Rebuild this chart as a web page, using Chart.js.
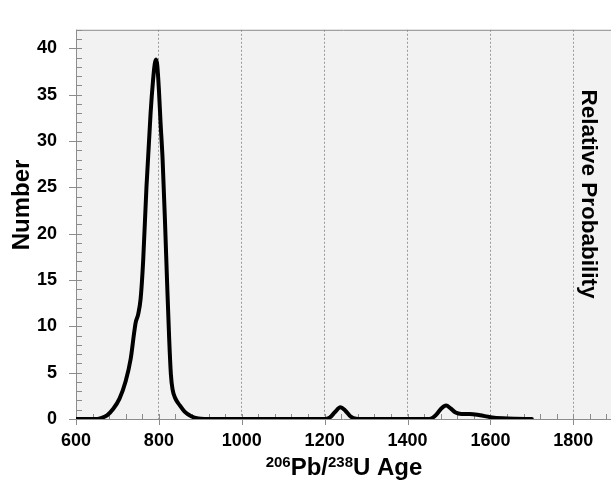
<!DOCTYPE html>
<html>
<head>
<meta charset="utf-8">
<script src="https://cdn.jsdelivr.net/npm/chart.js@4.4.1/dist/chart.umd.min.js"></script>
<style>
  html, body { margin: 0; padding: 0; background: #fff; }
  #wrap { width: 611px; height: 481px; }
</style>
</head>
<body>
<div id="wrap"><canvas id="ageChart" width="611" height="481"></canvas></div>
<script>
// probability density curve
const ages = [600, 645, 660, 675, 690, 705, 720, 732, 740, 744, 750, 756, 762, 770, 780, 786, 790, 793, 796, 800, 804, 809, 815, 820, 825, 829, 833, 840, 850, 862, 878, 895, 910,
  1000, 1100, 1200, 1212, 1225, 1238, 1250, 1262, 1276, 1290,
  1350, 1453, 1468, 1482, 1493, 1504, 1516, 1530, 1550, 1575, 1600, 1630, 1660, 1700];
const numbers = [0, 0, 0.1, 0.4, 1.1, 2.2, 4.1, 6.5, 9.2, 10.4, 11.3, 13.0, 17.0, 25.0, 33.0, 36.6, 38.3, 38.8, 38.2, 35.6, 32.0, 28.0, 21.0, 14.5, 8.5, 4.8, 3.2, 2.2, 1.5, 0.8, 0.3, 0.05, 0,
  0, 0, 0, 0.15, 0.75, 1.27, 0.9, 0.3, 0.02, 0,
  0, 0, 0.4, 1.15, 1.45, 1.15, 0.7, 0.55, 0.55, 0.4, 0.2, 0.07, 0.02, 0];

const xTicks = [600, 800, 1000, 1200, 1400, 1600, 1800];
const yTicks = [0, 5, 10, 15, 20, 25, 30, 35, 40];
const xMinorStep = 40;
const yMinorStep = 1;

const axisGray = '#8c8c8c';
const FONT = "'Liberation Sans', Arial, sans-serif";

const framePlugin = {
  id: 'frame',
  beforeDraw(chart) {
    const { ctx, chartArea: a } = chart;
    ctx.save();
    ctx.fillStyle = '#f2f2f2';
    ctx.fillRect(a.left, a.top, a.right - a.left, a.bottom - a.top);
    ctx.restore();
  },
  beforeDatasetsDraw(chart) {
    const { ctx, chartArea: a, scales: { x, y } } = chart;
    ctx.save();
    ctx.strokeStyle = axisGray;
    ctx.lineWidth = 1;
    ctx.beginPath();
    // frame lines
    ctx.moveTo(a.left, a.top + 0.5); ctx.lineTo(a.right, a.top + 0.5);
    ctx.moveTo(a.left + 0.5, a.top); ctx.lineTo(a.left + 0.5, a.bottom);
    ctx.moveTo(a.left, a.bottom + 0.5); ctx.lineTo(a.right, a.bottom + 0.5);
    // x ticks
    for (let v = x.min; v <= x.max; v += xMinorStep) {
      const px = Math.round(x.getPixelForValue(v)) + 0.5;
      if (xTicks.includes(v)) {
        ctx.moveTo(px, a.bottom - 5); ctx.lineTo(px, a.bottom + 6);
      } else {
        ctx.moveTo(px, a.bottom - 5); ctx.lineTo(px, a.bottom);
      }
    }
    // y ticks
    for (let v = y.min; v <= y.max; v += yMinorStep) {
      const py = Math.round(y.getPixelForValue(v)) + 0.5;
      if (yTicks.includes(v)) {
        ctx.moveTo(a.left - 7, py); ctx.lineTo(a.left + 6, py);
      } else {
        ctx.moveTo(a.left, py); ctx.lineTo(a.left + 6, py);
      }
    }
    ctx.stroke();
    ctx.restore();
  },
  afterDraw(chart) {
    const { ctx } = chart;
    ctx.save();
    ctx.fillStyle = '#000';
    ctx.textBaseline = 'middle';
    ctx.textAlign = 'center';

    // left title
    ctx.save();
    ctx.translate(22, 205);
    ctx.rotate(-Math.PI / 2);
    ctx.font = 'bold 24px ' + FONT;
    ctx.fillText('Number', 0, 0);
    ctx.restore();

    // right title
    ctx.save();
    ctx.translate(588, 194);
    ctx.rotate(Math.PI / 2);
    ctx.font = 'bold 22.5px ' + FONT;
    ctx.fillText('Relative Probability', 0, 0);
    ctx.restore();

    // bottom title with superscripts
    const parts = [['206', true], ['Pb/', false], ['238', true], ['U Age', false]];
    const big = 'bold 24px ' + FONT, small = 'bold 15px ' + FONT;
    let total = 0;
    parts.forEach(([t, sup]) => { ctx.font = sup ? small : big; total += ctx.measureText(t).width; });
    let cx = 344 - total / 2;
    const base = 475;
    ctx.textAlign = 'left';
    ctx.textBaseline = 'alphabetic';
    parts.forEach(([t, sup]) => {
      ctx.font = sup ? small : big;
      ctx.fillText(t, cx, sup ? base - 8 : base);
      cx += ctx.measureText(t).width;
    });
    ctx.restore();
  }
};

new Chart(document.getElementById('ageChart'), {
  type: 'line',
  data: {
    datasets: [{
      data: ages.map((a, i) => ({ x: a, y: numbers[i] })),
      borderColor: '#000',
      borderWidth: 4,
      pointRadius: 0,
      cubicInterpolationMode: 'monotone',
      borderCapStyle: 'round',
      borderJoinStyle: 'round',
      fill: false
    }]
  },
  options: {
    responsive: false,
    animation: false,
    layout: { padding: { top: 11, right: 0, left: 0, bottom: 0 } },
    plugins: { legend: { display: false }, tooltip: { enabled: false } },
    scales: {
      x: {
        type: 'linear',
        min: 600,
        max: 1891,
        afterBuildTicks: s => { s.ticks = xTicks.map(v => ({ value: v })); },
        afterFit: s => { s.height = 62; },
        grid: { color: '#9a9a9a', lineWidth: 1, drawTicks: false },
        border: { display: false, dash: [2, 2] },
        ticks: {
          color: '#000', padding: 11, maxRotation: 0,
          callback: v => String(v),
          font: { family: FONT, size: 18, weight: 'bold' }
        }
      },
      y: {
        min: 0,
        max: 42,
        afterBuildTicks: s => { s.ticks = yTicks.map(v => ({ value: v })); },
        afterFit: s => { s.width = 76; },
        grid: { display: false, drawTicks: false },
        border: { display: false },
        ticks: {
          color: '#000', padding: 19,
          callback: v => String(v),
          font: { family: FONT, size: 18, weight: 'bold' }
        }
      }
    }
  },
  plugins: [framePlugin]
});
</script>
</body>
</html>
